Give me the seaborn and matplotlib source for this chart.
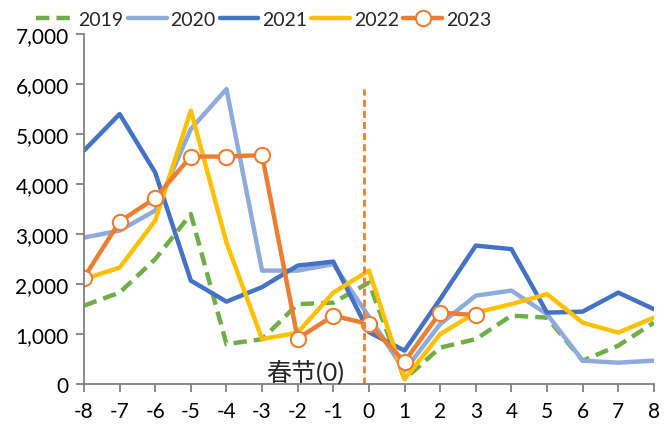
import pandas as pd
import matplotlib
matplotlib.use("Agg")
import matplotlib.pyplot as plt
import seaborn as sns
from matplotlib.ticker import FuncFormatter

sns.set_style("white")
plt.rcParams['font.family'] = ['Lato', 'Noto Sans CJK SC', 'DejaVu Sans']
plt.rcParams['axes.unicode_minus'] = False

# 春节前后周次
weeks = list(range(-8, 9))
v2019 = [1570, 1830, 2500, 3400, 800, 900, 1600, 1630, 2030, 100, 730, 900, 1370, 1330, 470, 770, 1230]
v2020 = [2930, 3070, 3470, 5100, 5900, 2270, 2270, 2400, 1350, 270, 1200, 1770, 1870, 1400, 470, 430, 470]
v2021 = [4670, 5400, 4230, 2070, 1650, 1940, 2370, 2450, 1040, 670, 1700, 2770, 2700, 1430, 1450, 1830, 1500]
v2022 = [2100, 2330, 3270, 5470, 2830, 900, 1030, 1830, 2270, 100, 1000, 1430, 1600, 1800, 1230, 1030, 1330]
weeks_2023 = list(range(-8, 4))
v2023 = [2130, 3250, 3720, 4550, 4550, 4580, 910, 1370, 1200, 450, 1430, 1380]

fig, ax = plt.subplots(figsize=(6.72, 4.27), dpi=100)
fig.subplots_adjust(left=0.125, right=0.973, bottom=0.098, top=0.918)

lw = 3.2
sns.lineplot(x=weeks, y=v2019, ax=ax, color="#70AD47", lw=lw, label="2019")
ax.lines[-1].set_dashes([3, 1.6])
sns.lineplot(x=weeks, y=v2020, ax=ax, color="#8FAADC", lw=lw, label="2020")
sns.lineplot(x=weeks, y=v2021, ax=ax, color="#4472C4", lw=lw, label="2021")
sns.lineplot(x=weeks, y=v2022, ax=ax, color="#FFC000", lw=lw, label="2022")
sns.lineplot(x=weeks_2023, y=v2023, ax=ax, color="#ED7D31", lw=lw, label="2023",
             marker="o", markersize=11, markerfacecolor="white",
             markeredgecolor="#ED7D31", markeredgewidth=1.5)

# 春节分界线
ax.plot([-0.15, -0.15], [0, 5900], color="#ED7D31", lw=2, ls=(0, (2.5, 1.5)))
ax.text(-0.7, 10, "春节(0)", ha="right", va="bottom", fontsize=18)

ax.set_xlim(-8, 8)
ax.set_ylim(0, 7000)
ax.set_xticks(weeks)
ax.set_yticks(range(0, 7001, 1000))
ax.yaxis.set_major_formatter(FuncFormatter(lambda v, p: f"{v:,.0f}"))
ax.tick_params(axis="both", labelsize=15, length=6, color="#808080", width=1.3,
               direction="out", left=True, bottom=True, labelcolor="black", pad=5)
ax.tick_params(axis="x", pad=6)
for side in ["top", "right"]:
    ax.spines[side].set_visible(False)
for side in ["left", "bottom"]:
    ax.spines[side].set_color("#808080")
    ax.spines[side].set_linewidth(1.3)

ax.legend(loc="lower center", bbox_to_anchor=(0.315, 0.995), ncol=5, frameon=False,
          fontsize=14, handlelength=2.0, handletextpad=0.2, columnspacing=0.2,
          borderaxespad=0)

fig.savefig("out.png", dpi=100)
